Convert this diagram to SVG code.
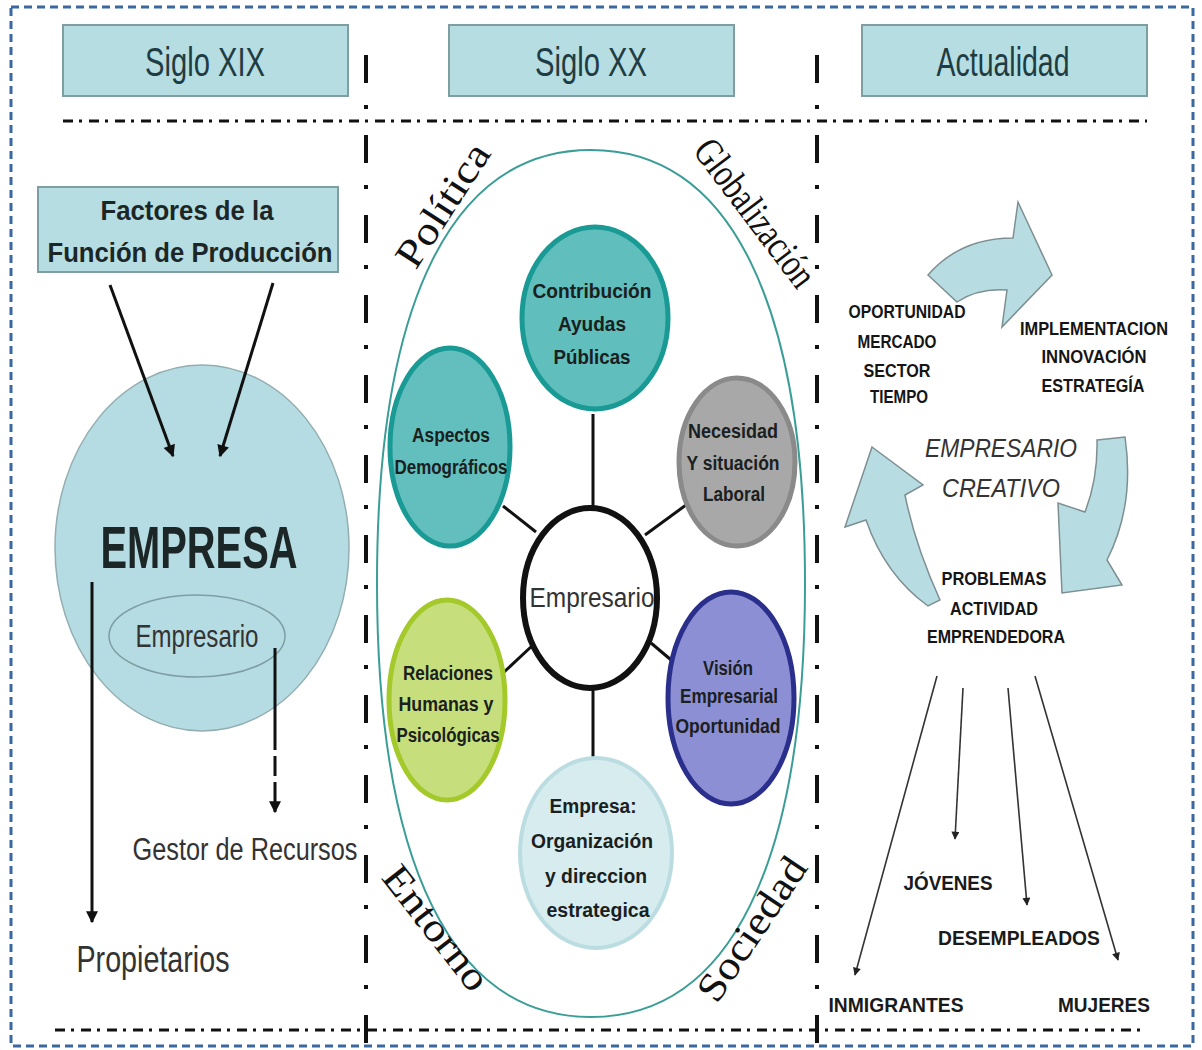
<svg xmlns="http://www.w3.org/2000/svg" width="1202" height="1050" viewBox="0 0 1202 1050">
<style>
.hdr{fill:#b5dde2;stroke:#7f9ea2;stroke-width:2}
.hdrt{font-family:"Liberation Sans",Arial,sans-serif;font-size:40px;fill:#1f3c42;text-anchor:middle}
.dd{stroke:#111;stroke-width:3;fill:none;stroke-dasharray:10 6 3 7}
.dv{stroke:#111;stroke-width:4;fill:none;stroke-dasharray:28 22 4 26}
.bold{font-family:"Liberation Sans",Arial,sans-serif;font-weight:bold;fill:#1c2626;text-anchor:middle}
.reg{font-family:"Liberation Sans",Arial,sans-serif;fill:#333;text-anchor:middle}
.ser{font-family:"Liberation Serif","Times New Roman",serif;font-size:40px;fill:#111;text-anchor:middle}
.ct{font-family:"Liberation Sans",Arial,sans-serif;font-weight:bold;font-size:20px;fill:#1a2020;text-anchor:middle}
.rt{font-family:"Liberation Sans",Arial,sans-serif;font-weight:bold;font-size:18px;fill:#151515;text-anchor:middle}
.lt{font-family:"Liberation Sans",Arial,sans-serif;font-weight:bold;font-size:21px;fill:#1a1a1a;text-anchor:middle}
.blk{stroke:#111;stroke-width:3;fill:none}
.thin{stroke:#333;stroke-width:1.6;fill:none}
.cyc{fill:#b7dde2;stroke:#7d8f92;stroke-width:1.5}
</style>
<defs>
<marker id="ah" viewBox="0 0 10 10" refX="9" refY="5" markerWidth="4.5" markerHeight="4" orient="auto" markerUnits="strokeWidth"><path d="M0,0 L10,5 L0,10 z" fill="#111"/></marker>
<marker id="ahs" viewBox="0 0 10 10" refX="9" refY="5" markerWidth="6.5" markerHeight="5" orient="auto" markerUnits="strokeWidth"><path d="M0,0 L10,5 L0,10 z" fill="#222"/></marker>
</defs>

<rect x="11" y="7" width="1182" height="1039" fill="#fff" stroke="#3b68a0" stroke-width="3" stroke-dasharray="8 5"/>

<g id="separators">
<line class="dd" x1="63" y1="121" x2="1147" y2="121"/>
<line class="dd" x1="55" y1="1030" x2="1140" y2="1030"/>
<line class="dv" x1="366" y1="55" x2="366" y2="1047"/>
<line class="dv" x1="817" y1="55" x2="817" y2="1047"/>
</g>

<g id="hdr-xix"><rect class="hdr" x="63" y="25" width="285" height="71"/><text class="hdrt" x="205" y="76" textLength="120" lengthAdjust="spacingAndGlyphs">Siglo XIX</text></g>
<g id="hdr-xx"><rect class="hdr" x="449" y="25" width="285" height="71"/><text class="hdrt" x="591" y="76" textLength="112" lengthAdjust="spacingAndGlyphs">Siglo XX</text></g>
<g id="hdr-act"><rect class="hdr" x="862" y="25" width="285" height="71"/><text class="hdrt" x="1003" y="76" textLength="133" lengthAdjust="spacingAndGlyphs">Actualidad</text></g>

<!-- Siglo XIX -->
<g id="factores"><rect class="hdr" x="38" y="187" width="300" height="85"/>
<text class="bold" x="187" y="220" font-size="28" textLength="173" lengthAdjust="spacingAndGlyphs">Factores de la</text>
<text class="bold" x="190" y="262" font-size="28" textLength="285" lengthAdjust="spacingAndGlyphs">Función de Producción</text></g>
<g id="empresa"><ellipse cx="202" cy="548" rx="147" ry="183" fill="#b5dce2" stroke="#93aeb2" stroke-width="1.5"/>
<text class="bold" x="199" y="568" font-size="60" fill="#141c1c" textLength="197" lengthAdjust="spacingAndGlyphs">EMPRESA</text></g>
<g id="empresario-inner"><ellipse cx="197" cy="636" rx="88" ry="41" fill="#b5dce2" stroke="#7f9ea2" stroke-width="1.5"/>
<text class="reg" x="197" y="647" font-size="31" fill="#3a4446" textLength="123" lengthAdjust="spacingAndGlyphs">Empresario</text></g>
<g id="gestor"><text class="reg" x="245" y="860" font-size="31" fill="#444" textLength="225" lengthAdjust="spacingAndGlyphs">Gestor de Recursos</text></g>
<g id="propietarios"><text class="reg" x="153" y="972" font-size="37" fill="#2a2a2a" textLength="153" lengthAdjust="spacingAndGlyphs">Propietarios</text></g>

<!-- Siglo XX -->
<g id="entorno-ellipse"><path d="M591,150 C730,150 805,302 805,583 C805,864 730,1017 591,1017 C452,1017 377,864 377,583 C377,302 452,150 591,150 Z" fill="none" stroke="#3a9e96" stroke-width="2"/></g>
<g id="lbl-politica" transform="translate(443,205) rotate(-57)"><text class="ser" x="0" y="13" textLength="140" lengthAdjust="spacingAndGlyphs">Política</text></g>
<g id="lbl-globalizacion" transform="translate(755,213) rotate(53)"><text class="ser" x="0" y="13" textLength="175" lengthAdjust="spacingAndGlyphs">Globalización</text></g>
<g id="lbl-entorno" transform="translate(436,928) rotate(52)"><text class="ser" x="0" y="13" textLength="148" lengthAdjust="spacingAndGlyphs">Entorno</text></g>
<g id="lbl-sociedad" transform="translate(752,929) rotate(-56)"><text class="ser" x="0" y="13" textLength="165" lengthAdjust="spacingAndGlyphs">Sociedad</text></g>

<g id="connectors">
<line class="blk" x1="92" y1="582" x2="92" y2="922" marker-end="url(#ah)"/>
<line class="blk" x1="275" y1="648" x2="275" y2="812" stroke-dasharray="102 6 20 6 30" marker-end="url(#ah)"/>
<line class="blk" x1="110" y1="285" x2="173" y2="456" marker-end="url(#ah)"/>
<line class="blk" x1="273" y1="283" x2="220" y2="456" marker-end="url(#ah)"/>
<line class="blk" x1="593" y1="414" x2="593" y2="510"/>
<line class="blk" x1="503" y1="506" x2="536" y2="532"/>
<line class="blk" x1="645" y1="535" x2="686" y2="505"/>
<line class="blk" x1="503" y1="673" x2="533" y2="645"/>
<line class="blk" x1="651" y1="643" x2="683" y2="670"/>
<line class="blk" x1="593" y1="688" x2="593" y2="760"/>
<line class="thin" x1="937" y1="676" x2="855" y2="975" marker-end="url(#ahs)"/>
<line class="thin" x1="963" y1="688" x2="955" y2="839" marker-end="url(#ahs)"/>
<line class="thin" x1="1008" y1="688" x2="1027" y2="905" marker-end="url(#ahs)"/>
<line class="thin" x1="1035" y1="676" x2="1118" y2="960" marker-end="url(#ahs)"/>
</g>

<g id="c-contribucion"><ellipse cx="595" cy="318" rx="73" ry="91" fill="#60bebc" stroke="#1a9a95" stroke-width="5"/>
<text class="ct" x="592" y="298" textLength="119" lengthAdjust="spacingAndGlyphs">Contribución</text>
<text class="ct" x="592" y="331" textLength="68" lengthAdjust="spacingAndGlyphs">Ayudas</text>
<text class="ct" x="592" y="364" textLength="77" lengthAdjust="spacingAndGlyphs">Públicas</text></g>
<g id="c-aspectos"><ellipse cx="450" cy="447" rx="60" ry="99" fill="#62bfbd" stroke="#1a9a95" stroke-width="5"/>
<text class="ct" x="451" y="442" textLength="78" lengthAdjust="spacingAndGlyphs">Aspectos</text>
<text class="ct" x="451" y="474" textLength="113" lengthAdjust="spacingAndGlyphs">Demográficos</text></g>
<g id="c-necesidad"><ellipse cx="737" cy="462" rx="58" ry="84" fill="#a8a8a8" stroke="#8a8a8a" stroke-width="5"/>
<text class="ct" x="733" y="438" textLength="90" lengthAdjust="spacingAndGlyphs">Necesidad</text>
<text class="ct" x="733" y="470" textLength="93" lengthAdjust="spacingAndGlyphs">Y situación</text>
<text class="ct" x="734" y="501" textLength="62" lengthAdjust="spacingAndGlyphs">Laboral</text></g>
<g id="c-relaciones"><ellipse cx="447" cy="700" rx="58" ry="100" fill="#c6df7c" stroke="#a3c92a" stroke-width="5"/>
<text class="ct" x="448" y="680" textLength="90" lengthAdjust="spacingAndGlyphs">Relaciones</text>
<text class="ct" x="446" y="711" textLength="95" lengthAdjust="spacingAndGlyphs">Humanas y</text>
<text class="ct" x="448" y="742" textLength="103" lengthAdjust="spacingAndGlyphs">Psicológicas</text></g>
<g id="c-vision"><ellipse cx="731" cy="698" rx="63" ry="106" fill="#8d8fd5" stroke="#2b2f8c" stroke-width="5"/>
<text class="ct" x="728" y="675" textLength="50" lengthAdjust="spacingAndGlyphs">Visión</text>
<text class="ct" x="729" y="703" textLength="98" lengthAdjust="spacingAndGlyphs">Empresarial</text>
<text class="ct" x="728" y="733" textLength="105" lengthAdjust="spacingAndGlyphs">Oportunidad</text></g>
<g id="c-empresa"><ellipse cx="596" cy="853" rx="76" ry="95" fill="#d6ecef" stroke="#bbdde1" stroke-width="4"/>
<text class="ct" x="593" y="813" textLength="87" lengthAdjust="spacingAndGlyphs">Empresa:</text>
<text class="ct" x="592" y="848" textLength="122" lengthAdjust="spacingAndGlyphs">Organización</text>
<text class="ct" x="596" y="883" textLength="102" lengthAdjust="spacingAndGlyphs">y direccion</text>
<text class="ct" x="598" y="917" textLength="103" lengthAdjust="spacingAndGlyphs">estrategica</text></g>
<g id="c-empresario"><ellipse cx="590" cy="598" rx="67" ry="90" fill="#fff" stroke="#111" stroke-width="6"/>
<text class="reg" x="592" y="607" font-size="27" fill="#2e2e2e" textLength="125" lengthAdjust="spacingAndGlyphs">Empresario</text></g>

<!-- Actualidad -->
<g id="cycle-arrows">
<path class="cyc" d="M928,275 Q960,238 1013,238 L1018,202 L1052,275 L1002,327 L1007,290 Q978,288 957,302 Z"/>
<path class="cyc" d="M1097,440 L1125,437 Q1135,505 1107,560 L1122,585 L1062,593 L1058,503 L1085,512 Q1098,478 1097,440 Z"/>
<path class="cyc" d="M872,447 L923,485 L905,495 Q915,545 940,600 L928,606 Q885,575 866,520 L845,527 Z"/>
</g>
<g id="t-oportunidad">
<text class="rt" x="907" y="318" textLength="117" lengthAdjust="spacingAndGlyphs">OPORTUNIDAD</text>
<text class="rt" x="897" y="348" textLength="79" lengthAdjust="spacingAndGlyphs">MERCADO</text>
<text class="rt" x="897" y="377" textLength="67" lengthAdjust="spacingAndGlyphs">SECTOR</text>
<text class="rt" x="899" y="403" textLength="58" lengthAdjust="spacingAndGlyphs">TIEMPO</text></g>
<g id="t-implementacion">
<text class="rt" x="1094" y="335" textLength="148" lengthAdjust="spacingAndGlyphs">IMPLEMENTACION</text>
<text class="rt" x="1094" y="363" textLength="105" lengthAdjust="spacingAndGlyphs">INNOVACIÓN</text>
<text class="rt" x="1093" y="392" textLength="103" lengthAdjust="spacingAndGlyphs">ESTRATEGÍA</text></g>
<g id="t-creativo">
<text class="reg" x="1001" y="457" font-size="25" font-style="italic" fill="#2a2a2a" textLength="152" lengthAdjust="spacingAndGlyphs">EMPRESARIO</text>
<text class="reg" x="1001" y="497" font-size="25" font-style="italic" fill="#2a2a2a" textLength="118" lengthAdjust="spacingAndGlyphs">CREATIVO</text></g>
<g id="t-problemas">
<text class="rt" x="994" y="585" textLength="105" lengthAdjust="spacingAndGlyphs">PROBLEMAS</text>
<text class="rt" x="994" y="615" textLength="88" lengthAdjust="spacingAndGlyphs">ACTIVIDAD</text>
<text class="rt" x="996" y="643" textLength="138" lengthAdjust="spacingAndGlyphs">EMPRENDEDORA</text></g>
<g id="t-jovenes"><text class="lt" x="948" y="890" textLength="89" lengthAdjust="spacingAndGlyphs">JÓVENES</text></g>
<g id="t-desempleados"><text class="lt" x="1019" y="945" textLength="162" lengthAdjust="spacingAndGlyphs">DESEMPLEADOS</text></g>
<g id="t-inmigrantes"><text class="lt" x="896" y="1012" textLength="135" lengthAdjust="spacingAndGlyphs">INMIGRANTES</text></g>
<g id="t-mujeres"><text class="lt" x="1104" y="1012" textLength="92" lengthAdjust="spacingAndGlyphs">MUJERES</text></g>
</svg>
